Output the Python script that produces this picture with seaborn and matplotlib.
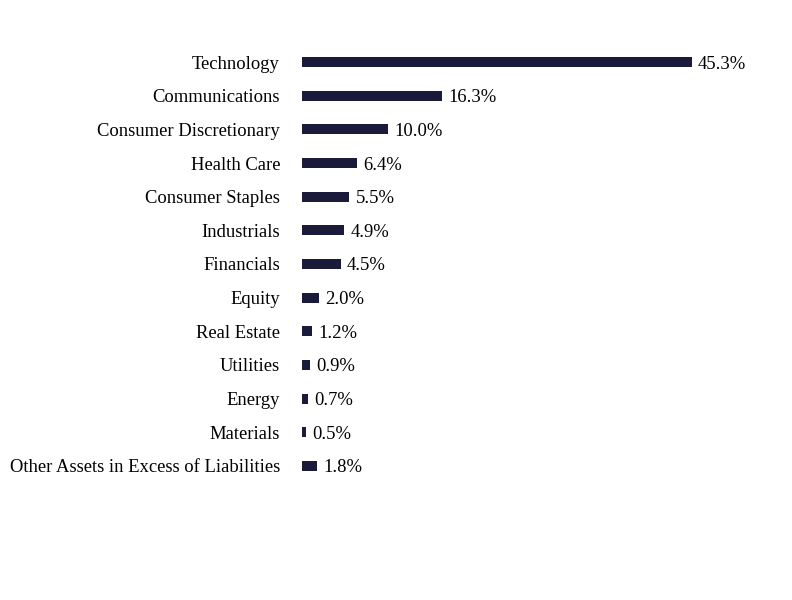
import matplotlib
matplotlib.use('Agg')
import matplotlib.pyplot as plt
import seaborn as sns
import pandas as pd

#sector allocation data
sectors = ['Technology', 'Communications', 'Consumer Discretionary', 'Health Care',
           'Consumer Staples', 'Industrials', 'Financials', 'Equity', 'Real Estate',
           'Utilities', 'Energy', 'Materials', 'Other Assets in Excess of Liabilities']
weights = [45.3, 16.3, 10.0, 6.4, 5.5, 4.9, 4.5, 2.0, 1.2, 0.9, 0.7, 0.5, 1.8]

df = pd.DataFrame({'sector': sectors, 'weight': weights})

sns.set_theme(style='white')
plt.rcParams['font.family'] = ['Liberation Serif', 'DejaVu Serif']

fig = plt.figure(figsize=(7.92, 6), dpi=100)
ax = fig.add_axes([302/792, 1-482.8/600, 490/792, (482.8-45.2)/600])

sns.barplot(data=df, x='weight', y='sector', color='#1a1a3a', width=0.3,
            saturation=1, linewidth=0, ax=ax, orient='h')

#labels on bar ends
for i, v in enumerate(weights):
    ax.text(v + 0.7, i, f'{v:.1f}%', va='center_baseline', ha='left', fontsize=13.4, color='black')

ax.set_xlim(0, 490/8.61)
ax.set_ylim(12.5, -0.5)
ax.set_xlabel('')
ax.set_ylabel('')
ax.set_xticks([])
ax.tick_params(axis='y', length=0, pad=15.8, labelsize=13.4, labelcolor='black')
for lbl in ax.get_yticklabels():
    lbl.set_verticalalignment('center_baseline')
sns.despine(left=True, bottom=True)

plt.savefig('out.png', dpi=100)
